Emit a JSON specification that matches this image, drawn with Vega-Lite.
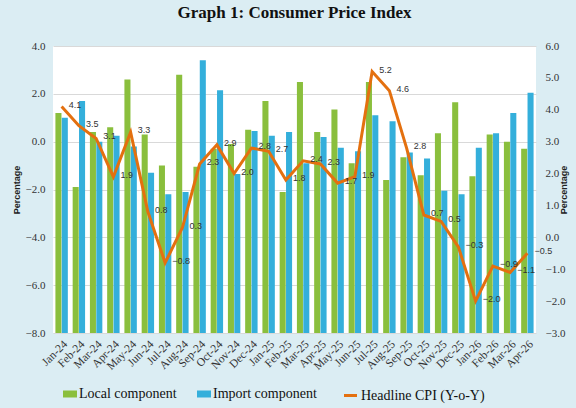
{
  "$schema": "https://vega.github.io/schema/vega-lite/v6.json",
  "width": 483,
  "height": 287,
  "autosize": {"type": "none"},
  "padding": {"left": 53, "top": 46, "right": 40, "bottom": 75},
  "background": "#dbedf3",
  "title": {"text": "Graph 1: Consumer Price Index", "font": "Liberation Serif", "fontSize": 17, "fontWeight": "bold", "color": "#111111", "anchor": "middle", "offset": 18},
  "config": {
    "view": {"fill": "white", "stroke": null},
    "axis": {"labelFont": "Liberation Serif", "labelFontSize": 11, "labelColor": "#333333", "titleFont": "Liberation Sans", "titleFontSize": 9, "titleFontWeight": "bold", "titleColor": "#222222", "domain": false, "ticks": false}
  },
  "data": {"values": [
    {"month": "Jan-24", "local": 1.2, "imported": 1.0, "cpi": 4.1},
    {"month": "Feb-24", "local": -1.9, "imported": 1.7, "cpi": 3.5},
    {"month": "Mar-24", "local": 0.4, "imported": 0.0, "cpi": 3.1},
    {"month": "Apr-24", "local": 0.6, "imported": 0.25, "cpi": 1.9},
    {"month": "May-24", "local": 2.6, "imported": -0.2, "cpi": 3.3},
    {"month": "Jun-24", "local": 0.3, "imported": -1.3, "cpi": 0.8},
    {"month": "Jul-24", "local": -1.0, "imported": -2.2, "cpi": -0.8},
    {"month": "Aug-24", "local": 2.8, "imported": -2.1, "cpi": 0.3},
    {"month": "Sep-24", "local": -1.05, "imported": 3.4, "cpi": 2.3},
    {"month": "Oct-24", "local": -0.3, "imported": 2.15, "cpi": 2.9},
    {"month": "Nov-24", "local": -0.1, "imported": -1.35, "cpi": 2.0},
    {"month": "Dec-24", "local": 0.5, "imported": 0.45, "cpi": 2.8},
    {"month": "Jan-25", "local": 1.7, "imported": 0.25, "cpi": 2.7},
    {"month": "Feb-25", "local": -2.1, "imported": 0.4, "cpi": 1.8},
    {"month": "Mar-25", "local": 2.5, "imported": -0.9, "cpi": 2.4},
    {"month": "Apr-25", "local": 0.4, "imported": 0.2, "cpi": 2.3},
    {"month": "May-25", "local": 1.35, "imported": -0.25, "cpi": 1.7},
    {"month": "Jun-25", "local": -0.9, "imported": -0.4, "cpi": 1.9},
    {"month": "Jul-25", "local": 2.5, "imported": 1.1, "cpi": 5.2},
    {"month": "Aug-25", "local": -1.6, "imported": 0.85, "cpi": 4.6},
    {"month": "Sep-25", "local": -0.65, "imported": -0.45, "cpi": 2.8},
    {"month": "Oct-25", "local": -1.4, "imported": -0.7, "cpi": 0.7},
    {"month": "Nov-25", "local": 0.35, "imported": -2.05, "cpi": 0.5},
    {"month": "Dec-25", "local": 1.65, "imported": -2.2, "cpi": -0.3},
    {"month": "Jan-26", "local": -1.45, "imported": -0.25, "cpi": -2.0},
    {"month": "Feb-26", "local": 0.3, "imported": 0.35, "cpi": -0.9},
    {"month": "Mar-26", "local": 0.0, "imported": 1.2, "cpi": -1.1},
    {"month": "Apr-26", "local": -0.3, "imported": 2.05, "cpi": -0.5}
  ]},
  "encoding": {
    "x": {"field": "month", "type": "ordinal", "sort": null, "scale": {"paddingInner": 0.28, "paddingOuter": 0.14}, "axis": {"title": null, "labelAngle": -45, "labelPadding": 5, "labelFontSize": 11.5}}
  },
  "layer": [
    {
      "transform": [{"fold": ["local", "imported"], "as": ["series", "value"]}],
      "mark": {"type": "bar"},
      "encoding": {
        "xOffset": {"field": "series", "type": "nominal", "sort": ["local", "imported"], "scale": {"paddingInner": 0.05}},
        "y": {"field": "value", "type": "quantitative", "scale": {"domain": [-8, 4], "nice": false, "zero": false}, "axis": {"values": [-8, -6, -4, -2, 0, 2, 4], "format": ".1f", "title": "Percentage", "grid": true, "gridColor": "#d9d9d9", "labelPadding": 8, "titlePadding": 4}},
        "y2": {"datum": -8},
        "color": {"field": "series", "type": "nominal", "sort": ["local", "imported"], "scale": {"domain": ["local", "imported"], "range": ["#8abf3d", "#34afdb"]},
          "legend": {"orient": "none", "legendX": 10, "legendY": 341, "direction": "horizontal", "title": null, "labelExpr": "datum.label == 'local' ? 'Local component' : 'Import component'", "symbolType": "M-1,-0.5L1,-0.5L1,0.5L-1,0.5Z", "symbolSize": 196, "symbolStrokeWidth": 0, "labelFont": "Liberation Serif", "labelFontSize": 14, "labelColor": "#111111", "columnPadding": 20, "labelOffset": 2}}
      }
    },
    {
      "mark": {"type": "line", "strokeWidth": 3},
      "encoding": {
        "y": {"field": "cpi", "type": "quantitative", "scale": {"domain": [-3, 6], "nice": false, "zero": false}, "axis": {"orient": "right", "values": [-3, -2, -1, 0, 1, 2, 3, 4, 5, 6], "format": ".1f", "title": "Percentage", "titleAngle": 270, "grid": false, "labelPadding": 9, "titlePadding": 4}},
        "stroke": {"datum": "Headline CPI (Y-o-Y)", "scale": {"range": ["#e4700f"]},
          "legend": {"orient": "none", "legendX": 289, "legendY": 341, "title": null, "symbolType": "stroke", "symbolStrokeWidth": 3, "symbolSize": 170, "labelFont": "Liberation Serif", "labelFontSize": 14, "labelColor": "#111111", "labelOffset": 2}}
      }
    },
    {
      "mark": {"type": "text", "align": "left", "baseline": "middle", "dx": 7, "dy": -2, "fontSize": 9, "font": "Liberation Sans", "color": "#333333"},
      "encoding": {
        "y": {"field": "cpi", "type": "quantitative", "scale": {"domain": [-3, 6], "nice": false, "zero": false}, "axis": null},
        "text": {"field": "cpi", "type": "quantitative", "format": ".1f"}
      }
    }
  ],
  "resolve": {"scale": {"y": "independent", "color": "independent"}}
}
